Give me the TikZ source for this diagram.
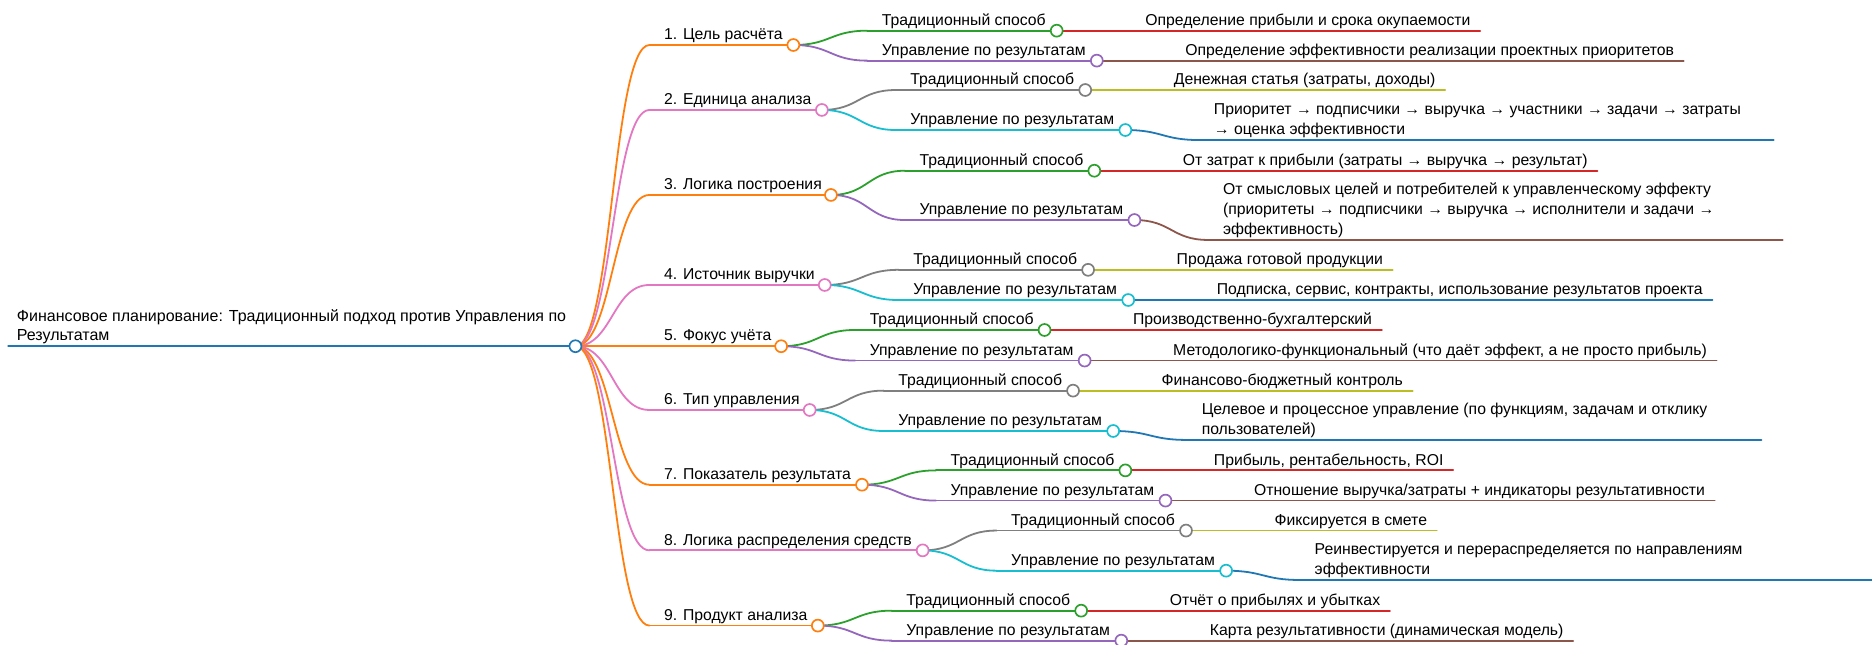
\documentclass[tikz,border=0pt]{standalone}
\usepackage{fontspec}
\setmainfont{Liberation Sans}
\usetikzlibrary{calc}
\definecolor{mmblue}{HTML}{1F77B4}
\definecolor{mmorange}{HTML}{FF7F0E}
\definecolor{mmgreen}{HTML}{2CA02C}
\definecolor{mmred}{HTML}{D62728}
\definecolor{mmpurple}{HTML}{9467BD}
\definecolor{mmbrown}{HTML}{8C564B}
\definecolor{mmpink}{HTML}{E377C2}
\definecolor{mmgray}{HTML}{7F7F7F}
\definecolor{mmolive}{HTML}{BCBD22}
\definecolor{mmcyan}{HTML}{17BECF}
\pgfdeclarelayer{fg}
\pgfsetlayers{main,fg}
\tikzset{
  lbl/.style={anchor=base west, inner sep=0pt, font=\fontsize{13.2}{17}\selectfont, text=black},
  wire/.style={line width=1.5pt, line cap=round},
  dot/.style={circle, draw=#1, fill=white, line width=1.4pt, minimum size=10pt, inner sep=0pt},
}
% link from parent circle centre to child line start
\newcommand{\mmlink}[3]{\draw[wire,#1] let \p1=(#2), \p2=(#3) in (\p1) .. controls ({(\x1+\x2)/2},\y1) and ({(\x1+\x2)/2},\y2) .. (\p2);}
% inner node: id, parent id, parent x, line y, circle x, colour, text
\newcommand{\mminner}[7]{%
  \coordinate (s#1) at ({#3+62},#4);
  \coordinate (C#1) at (#5,#4);
  \node[lbl] (t#1) at ({#3+74},{#4-4.5}) {#7};
  \draw[wire,#6] (s#1) -- (C#1);
  \mmlink{#6}{C#2}{s#1}
  \begin{pgfonlayer}{fg}\node[dot=#6] (d#1) at (C#1) {};\end{pgfonlayer}
}
% leaf: id, parent id, parent x, line y, colour, text
\newcommand{\mmleaf}[6]{%
  \coordinate (s#1) at ({#3+62},#4);
  \node[lbl] (t#1) at ({#3+74},{#4-4.5}) {#6};
  \coordinate[xshift=8pt] (e#1) at (s#1 -| t#1.east);
  \draw[wire,#5] (s#1) -- (e#1);
  \mmlink{#5}{C#2}{s#1}
}
% wrapped leaf: id, parent id, parent x, line y, colour, text (base = last line)
\newcommand{\mmwide}[6]{%
  \coordinate (s#1) at ({#3+62},#4);
  \node[lbl, align=left] (t#1) at ({#3+74},{#4-4.5}) {#6};
  \coordinate (e#1) at ({#3+62+481},#4);
  \draw[wire,#5] (s#1) -- (e#1);
  \mmlink{#5}{C#2}{s#1}
}
\begin{document}
\begin{tikzpicture}[x=1pt,y=-1pt]
\useasboundingbox (0,0) rectangle (1568,540);
\fill[white] (0,0) rectangle (1568,540);
% root
\coordinate (CR) at (482,290);
\coordinate (r0) at (7,290);
\node[lbl, align=left, font=\fontsize{13.4}{16}\selectfont] (tR) at (14,285.5) {Финансовое планирование: Традиционный подход против Управления по\\Результатам};
\draw[wire, mmblue, line width=2pt] (r0) -- (CR);
\begin{pgfonlayer}{fg}\node[dot=mmblue] (dR) at (CR) {};\end{pgfonlayer}

% 1
\mminner{1}{R}{482}{37.7}{664.5}{mmorange}{1. Цель расчёта}
\mminner{1a}{1}{664.5}{25.7}{885.1}{mmgreen}{Традиционный способ}
\mmleaf{1ax}{1a}{885.1}{25.7}{mmred}{Определение прибыли и срока окупаемости}
\mminner{1b}{1}{664.5}{50.8}{918.7}{mmpurple}{Управление по результатам}
\mmleaf{1bx}{1b}{918.7}{50.8}{mmbrown}{Определение эффективности реализации проектных приоритетов}
% 2
\mminner{2}{R}{482}{92.1}{688.4}{mmpink}{2. Единица анализа}
\mminner{2a}{2}{688.4}{75.4}{909}{mmgray}{Традиционный способ}
\mmleaf{2ax}{2a}{909}{75.4}{mmolive}{Денежная статья (затраты, доходы)}
\mminner{2b}{2}{688.4}{108.9}{942.6}{mmcyan}{Управление по результатам}
\mmwide{2bx}{2b}{942.6}{117.3}{mmblue}{Приоритет → подписчики → выручка → участники → задачи → затраты\\→ оценка эффективности}
% 3
\mminner{3}{R}{482}{163.3}{696}{mmorange}{3. Логика построения}
\mminner{3a}{3}{696}{143}{916.6}{mmgreen}{Традиционный способ}
\mmleaf{3ax}{3a}{916.6}{143}{mmred}{От затрат к прибыли (затраты → выручка → результат)}
\mminner{3b}{3}{696}{184.3}{950.2}{mmpurple}{Управление по результатам}
\mmwide{3bx}{3b}{950.2}{201}{mmbrown}{От смысловых целей и потребителей к управленческому эффекту\\(приоритеты → подписчики → выручка → исполнители и задачи →\\эффективность)}
% 4
\mminner{4}{R}{482}{238.7}{690.8}{mmpink}{4. Источник выручки}
\mminner{4a}{4}{690.8}{226}{911.4}{mmgray}{Традиционный способ}
\mmleaf{4ax}{4a}{911.4}{226}{mmolive}{Продажа готовой продукции}
\mminner{4b}{4}{690.8}{251.3}{945}{mmcyan}{Управление по результатам}
\mmleaf{4bx}{4b}{945}{251.3}{mmblue}{Подписка, сервис, контракты, использование результатов проекта}
% 5
\mminner{5}{R}{482}{290}{654.3}{mmorange}{5. Фокус учёта}
\mminner{5a}{5}{654.3}{276.4}{874.9}{mmgreen}{Традиционный способ}
\mmleaf{5ax}{5a}{874.9}{276.4}{mmred}{Производственно-бухгалтерский}
\mminner{5b}{5}{654.3}{302}{908.5}{mmpurple}{Управление по результатам}
\mmleaf{5bx}{5b}{908.5}{302}{mmbrown}{Методологико-функциональный (что даёт эффект, а не просто прибыль)}
% 6
\mminner{6}{R}{482}{343.4}{678.2}{mmpink}{6. Тип управления}
\mminner{6a}{6}{678.2}{327.2}{898.8}{mmgray}{Традиционный способ}
\mmleaf{6ax}{6a}{898.8}{327.2}{mmolive}{Финансово-бюджетный контроль}
\mminner{6b}{6}{678.2}{361}{932.4}{mmcyan}{Управление по результатам}
\mmwide{6bx}{6b}{932.4}{368.5}{mmblue}{Целевое и процессное управление (по функциям, задачам и отклику\\пользователей)}
% 7
\mminner{7}{R}{482}{406}{722}{mmorange}{7. Показатель результата}
\mminner{7a}{7}{722}{394}{942.6}{mmgreen}{Традиционный способ}
\mmleaf{7ax}{7a}{942.6}{394}{mmred}{Прибыль, рентабельность, ROI}
\mminner{7b}{7}{722}{419.3}{976.2}{mmpurple}{Управление по результатам}
\mmleaf{7bx}{7b}{976.2}{419.3}{mmbrown}{Отношение выручка/затраты + индикаторы результативности}
% 8
\mminner{8}{R}{482}{461}{772.8}{mmpink}{8. Логика распределения средств}
\mminner{8a}{8}{772.8}{444.4}{993.4}{mmgray}{Традиционный способ}
\mmleaf{8ax}{8a}{993.4}{444.4}{mmolive}{Фиксируется в смете}
\mminner{8b}{8}{772.8}{478}{1027}{mmcyan}{Управление по результатам}
\mmwide{8bx}{8b}{1027}{485.8}{mmblue}{Реинвестируется и перераспределяется по направлениям\\эффективности}
% 9
\mminner{9}{R}{482}{524}{685}{mmorange}{9. Продукт анализа}
\mminner{9a}{9}{685}{511.5}{905.6}{mmgreen}{Традиционный способ}
\mmleaf{9ax}{9a}{905.6}{511.5}{mmred}{Отчёт о прибылях и убытках}
\mminner{9b}{9}{685}{536.6}{939.2}{mmpurple}{Управление по результатам}
\mmleaf{9bx}{9b}{939.2}{536.6}{mmbrown}{Карта результативности (динамическая модель)}
\end{tikzpicture}
\end{document}
